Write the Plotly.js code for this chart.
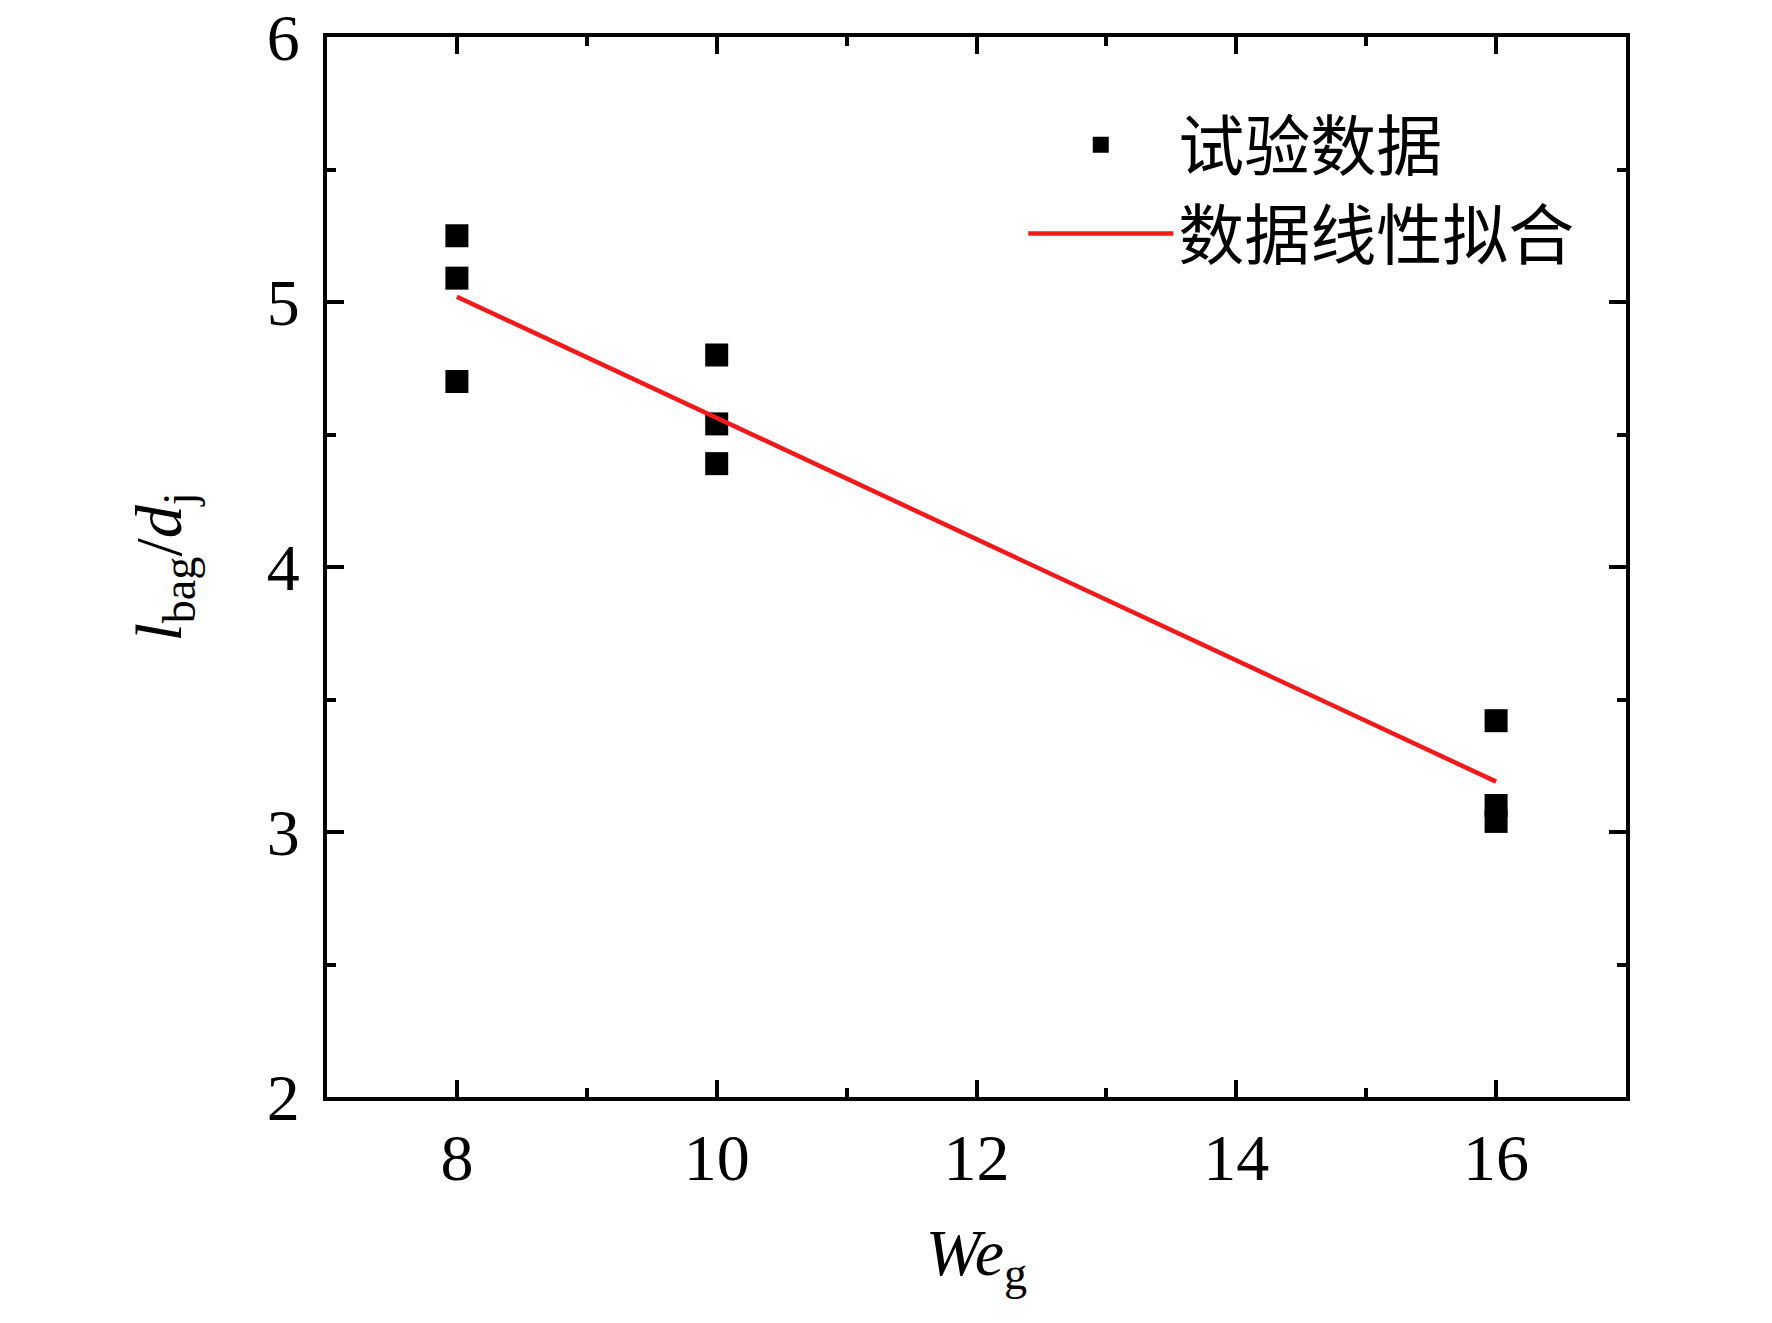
<!DOCTYPE html>
<html>
<head>
<meta charset="utf-8">
<script src="https://cdn.plot.ly/plotly-3.0.1.min.js"></script>
<style>
  body { margin: 0; background: #fff; }
  #chart { width: 1772px; height: 1323px; }
</style>
</head>
<body>
<div id="chart"></div>
<script>
const weG = [8, 8, 8, 10, 10, 10, 16, 16, 16];
const lBag = [5.25, 5.09, 4.70, 4.80, 4.54, 4.39, 3.42, 3.10, 3.04];

// ends of the fitted line
const fitX = [8, 16];
const fitY = [5.02, 3.19];

const xTicks = [8, 10, 12, 14, 16];
const yTicks = [2, 3, 4, 5, 6];

const serif = 'Liberation Serif, Times New Roman, serif';
const cjk = 'Noto Sans CJK SC, sans-serif';

const data = [
  {
    x: weG,
    y: lBag,
    name: '试验数据',
    type: 'scatter',
    mode: 'markers',
    marker: { symbol: 'square', size: 23, color: '#000' },
  },
  {
    x: fitX,
    y: fitY,
    name: '数据线性拟合',
    type: 'scatter',
    mode: 'lines',
    line: { color: '#f51818', width: 4.5 },
  },
];

const axisCommon = {
  showgrid: false,
  zeroline: false,
  showline: true,
  linecolor: '#000',
  linewidth: 4,
  mirror: 'ticks',
  ticks: 'inside',
  ticklen: 17,
  tickwidth: 4,
  tickcolor: '#000',
  tickfont: { family: serif, size: 66, color: '#000' },
};

const layout = {
  width: 1772,
  height: 1323,
  paper_bgcolor: '#fff',
  plot_bgcolor: '#fff',
  margin: { l: 327, r: 146, t: 37, b: 226 },
  showlegend: true,
  legend: {
    x: 0.536,
    y: 0.945,
    xanchor: 'left',
    yanchor: 'top',
    bgcolor: 'rgba(0,0,0,0)',
    font: { family: cjk, size: 66, color: '#000' },
    itemwidth: 145,
    tracegroupgap: 0,
  },
  xaxis: Object.assign({}, axisCommon, {
    range: [7, 17],
    tickvals: xTicks,
    ticklabelstandoff: 0,
    minor: { dtick: 1, tick0: 7, ticks: 'inside', ticklen: 9, tickwidth: 4, tickcolor: '#000' },
    title: {
      text: '<i>We</i><sub>g</sub>',
      font: { family: serif, size: 66, color: '#000' },
      standoff: 37,
    },
  }),
  yaxis: Object.assign({}, axisCommon, {
    range: [2, 6],
    tickvals: yTicks,
    ticklabelstandoff: 10,
    minor: { dtick: 0.5, tick0: 2, ticks: 'inside', ticklen: 9, tickwidth: 4, tickcolor: '#000' },
    title: {
      text: '<i>l</i><sub>bag</sub>/<i>d</i><sub>j</sub>',
      font: { family: serif, size: 66, color: '#000' },
      standoff: 65,
    },
  }),
};

Plotly.newPlot('chart', data, layout, { displayModeBar: false, staticPlot: true });
</script>
</body>
</html>
